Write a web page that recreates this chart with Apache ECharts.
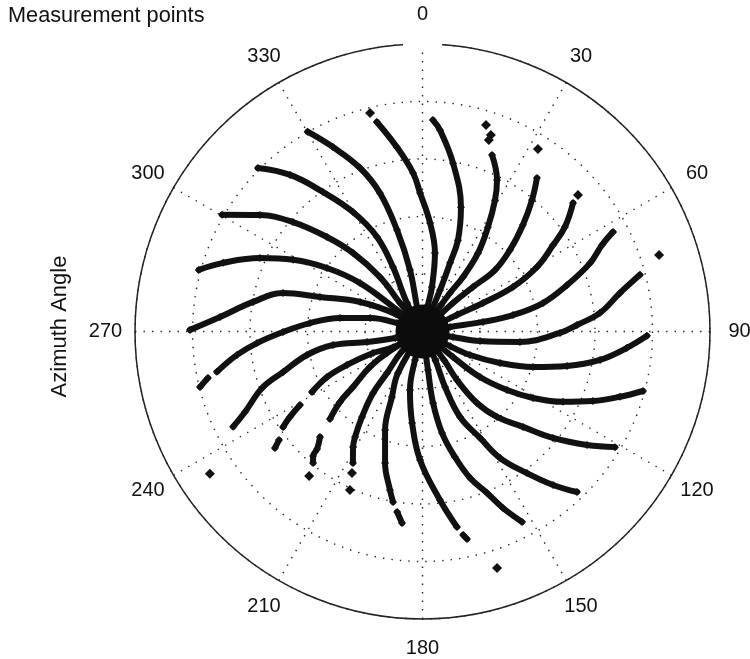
<!DOCTYPE html>
<html><head><meta charset="utf-8">
<style>html,body{margin:0;padding:0;background:#fff}#c{width:750px;height:659px}</style>
<script src="https://cdn.jsdelivr.net/npm/echarts@6/dist/echarts.min.js"></script>
</head><body><div id="c"></div>
<script>
// every point: [radial distance, azimuth angle in degrees]
const azimuthTicks = [0,30,60,90,120,150,180,210,240,270,300,330];
const arm01 = [[0,24],[45,22.9],[74,21.9],[98,21.2],[130,17.2],[171,10.3],[202,5],[211.8,2.8]];
const arm02 = [[0,36],[32,35],[47,35.5],[68,36.6],[96,35.3],[123,32.1],[150,28.9],[168.8,26.2],[189.7,21.5]];
const arm03 = [[0,47],[41.7,46.9],[67,48.6],[95,49.7],[119.6,47],[146.4,43.3],[171,39.8],[191.5,36.7]];
const arm04 = [[0,64],[38,64.4],[66.9,64.8],[100.8,63.8],[131.4,60.6],[156.6,56.5],[176.7,53.7],[198,49.5]];
const arm05 = [[0,80],[27.9,80.7],[61.2,81],[92,79.7],[123.8,76.7],[151.8,72.2],[181,67.8],[199,64.3],[215,62.4]];
const arm06 = [[0,100],[31,100.2],[58.3,99.4],[98,96.1],[137.5,90.6],[154.6,87.6],[178.5,84],[201,79],[224.7,75.4]];
const arm07 = [[0,118],[31.6,118],[53,116.3],[83.7,112.1],[116,107.8],[148.6,103.4],[179.8,99.1],[205,94.6],[224.5,91.1]];
const arm08 = [[0,130],[39.8,129.9],[73.3,128.4],[102.8,124.7],[129,121],[157,116.6],[184,112.2],[208,108.3],[228.4,105.1]];
const arm09 = [[0,143],[36.3,143],[59.5,144.6],[89.9,142.7],[113.4,138.9],[138.6,133.5],[168.4,129.2],[199.9,124.6],[224.5,121]];
const arm10 = [[0,156],[32,156],[59.9,157.9],[93.4,156.3],[121,151.6],[148.4,148.5],[175.9,143.6],[201.5,139.6],[222.8,136.1]];
const arm11 = [[0,172],[38.9,171.9],[72.3,171.6],[103.4,169.1],[129.6,165.5],[154,162],[173.9,158.2],[194,155.5],[214.9,152.4]];
const arm12 = [[0,195],[29.5,194.7],[59.8,192.1],[92,186.5],[128.5,181.1],[169.4,174.1],[198.5,170]];
const arm12tail = [[207.5,168.7],[212.2,167.9]];
const arm13 = [[0,212],[48.2,210.6],[72.3,205],[105.4,200.8],[136.7,195.9],[161.8,191.6],[173,189.8]];
const arm13tail = [[182.3,188],[192.6,186.1]];
const arm14 = [[0,226],[29,226],[54.6,220.5],[78.9,218.8],[104.7,215.3],[125.2,212.6],[134.8,211],[148.7,207.9]];
const arm15 = [[0,239],[41.5,238.8],[63.4,236],[88.9,231.4],[108.5,229.5],[127.3,226.6]];
const arm15tail = [[147,224.2],[157.9,221.9],[165.8,221.3],[171,219.8]];
const arm16 = [[0,243],[33.3,242],[54,246.5],[82.6,246.1],[105.8,244.5],[126,241.3]];
const arm16mid = [[142.9,239],[157.7,237.2],[169,235.6]];
const arm16tail = [[179.9,232.9],[188,231.7]];
const arm17 = [[0,257],[28,256.7],[56.5,259.3],[90.5,261.4],[117.9,258.5],[145,253.8],[170,250.6],[194.9,245.6],[212,243.3]];
const arm18 = [[0,288],[26.9,288.4],[54,284.4],[83.6,279.3],[112.8,274.3],[139.5,269.8],[165.9,266],[187,262.8],[209.5,258.9]];
const arm18tail = [[219.5,257.8],[229.3,256]];
const arm19 = [[0,303],[31.5,303],[69,295.3],[108.2,288.6],[144.7,285.4],[172,279.9],[203,274.1],[232.5,270.4]];
const arm20 = [[0,310],[33.4,310],[79,307.8],[114.7,303.6],[147.9,299],[178.4,294.3],[210.9,289],[232,285.4]];
const arm21 = [[0,322],[36.3,321.7],[69,322],[104.8,318.5],[134.4,314.7],[169.6,310.2],[200,305.6],[231.9,300.2]];
const arm22 = [[0,332],[32.4,331.5],[70.9,335.4],[104.9,334.3],[138.2,329.8],[171.3,324.5],[205,319.8],[232,314.8]];
const arm23 = [[0,347],[25,347.4],[62.8,348.5],[104.7,345.9],[144.9,342.9],[175,339.1],[205,334.1],[230.5,330.1]];
const arm24 = [[0,12],[27,11.7],[45.5,12],[79.5,9],[108.8,4],[138.5,359],[158.8,356.6],[186,352.1],[214.4,347.7]];
const strayPoints = [[216,17.1],[208,19.2],[202.7,19.1],[216,32.3],[207,48.7],[248.6,72.1],[248,162.5],[158,206.5],[174.3,204.6],[183.7,218.1],[255.9,236.2],[224.7,346.5]];
const centreCluster = [[0,0]];

const arms = [arm01,arm02,arm03,arm04,arm05,arm06,arm07,arm08,arm09,arm10,arm11,arm12,arm12tail,arm13,arm13tail,arm14,arm15,arm15tail,arm16,arm16mid,arm16tail,arm17,arm18,arm18tail,arm19,arm20,arm21,arm22,arm23,arm24];

const ink = '#111';
const series = arms.map(a => ({
  type:'line', coordinateSystem:'polar', data:a, smooth:0.4, animation:false, silent:true,
  lineStyle:{color:ink,width:6,cap:'round'}, symbol:'diamond', symbolSize:8, showSymbol:true,
  showAllSymbol:true, itemStyle:{color:ink,opacity:1}, z:3, clip:false
}));
series.push({type:'scatter',coordinateSystem:'polar',data:strayPoints,symbol:'diamond',symbolSize:10,
  itemStyle:{color:ink,opacity:1},animation:false,silent:true,z:3});
series.push({type:'scatter',coordinateSystem:'polar',data:centreCluster,symbol:'circle',symbolSize:54,
  itemStyle:{color:'#0c0c0c',opacity:1},animation:false,silent:true,z:4});
// azimuth tick labels, centred on their anchor like the source
series.push({type:'scatter',coordinateSystem:'polar',clip:false,symbolSize:0,animation:false,silent:true,z:5,
  data:azimuthTicks.map(t=>[317,t]),itemStyle:{opacity:1},
  label:{show:true,position:'inside',color:'#111',opacity:1,fontFamily:'Liberation Sans',fontSize:20,
    formatter:p=>String(p.value[1])}});

const chart = echarts.init(document.getElementById('c'),null,{renderer:'canvas'});
chart.setOption({
  backgroundColor:'#fff', animation:false,
  title:{text:'Measurement points',left:8,top:5,padding:0,textStyle:{color:'#111',fontFamily:'Liberation Sans',fontSize:21.7,fontWeight:'normal'}},
  polar:{center:[422.5,331.5],radius:287.5},
  angleAxis:{type:'value',min:0,max:360,interval:30,startAngle:90,clockwise:true,
    axisLine:{show:true,lineStyle:{color:'#222',width:1.5}},axisTick:{show:false},axisLabel:{show:false},
    splitLine:{show:true,lineStyle:{color:'#222',width:1.4,type:[1.4,7.1]}},minorSplitLine:{show:false}},
  radiusAxis:{type:'value',min:0,max:287.5,interval:57.5,axisLine:{show:false},axisTick:{show:false},axisLabel:{show:false},
    splitLine:{show:true,lineStyle:{color:'#222',width:1.4,type:[1.4,7.1]}}},
  graphic:[
    {type:'text',x:60,y:326.5,rotation:Math.PI/2,silent:true,z:10,
      style:{text:'Azimuth Angle',x:0,y:0,align:'center',verticalAlign:'middle',fill:'#111',font:'22px "Liberation Sans"'}},
    {type:'rect',z:10,silent:true,shape:{x:403,y:40,width:39,height:8},style:{fill:'#fff'}}
  ],
  series
});
</script></body></html>
